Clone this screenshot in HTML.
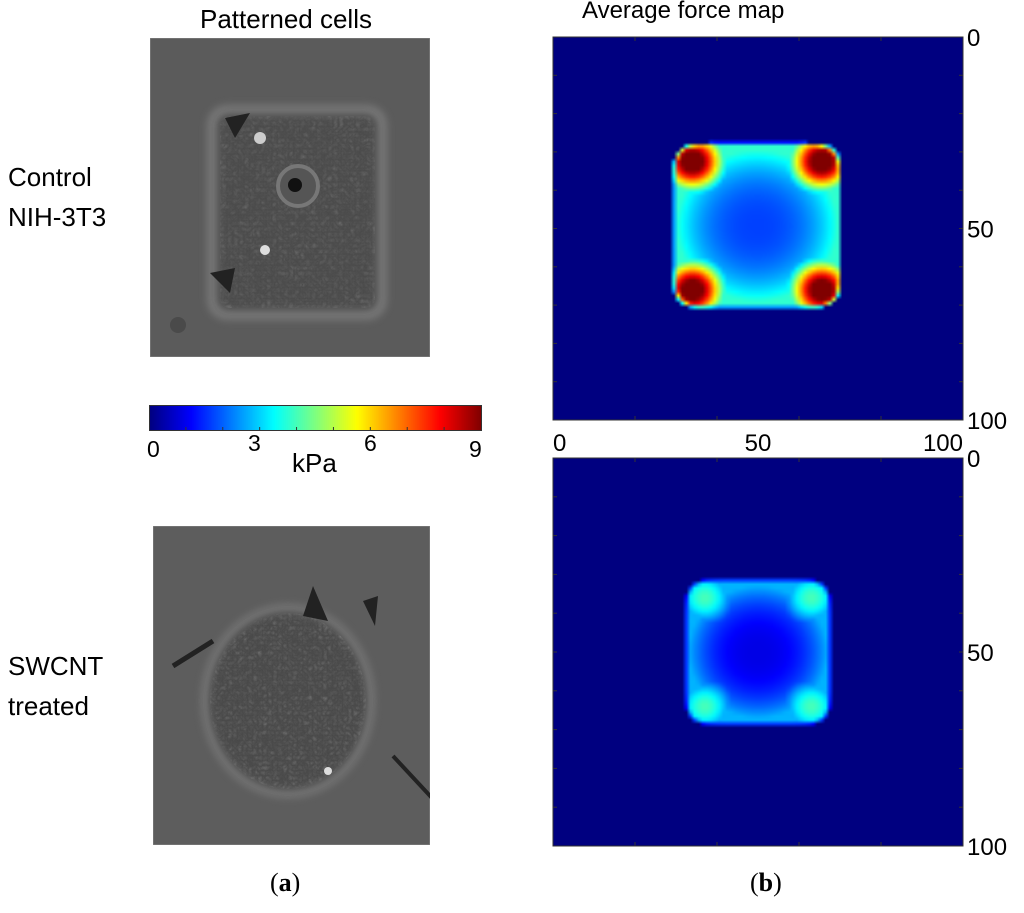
<!DOCTYPE html>
<html><head><meta charset="utf-8"><style>
body{margin:0;background:#fff;width:1024px;height:913px;position:relative;overflow:hidden;font-family:"Liberation Sans",Arial,sans-serif;}
.t{position:absolute;color:#000;white-space:nowrap;}
canvas{position:absolute;}
</style></head><body>
<div class="t" style="left:200px;top:4px;font-size:26px;">Patterned cells</div>
<div class="t" style="left:582px;top:-3px;font-size:24px;">Average force map</div>
<div class="t" style="left:8px;top:157px;font-size:26px;line-height:40px;">Control<br>NIH-3T3</div>
<div class="t" style="left:8px;top:646px;font-size:26px;line-height:40px;">SWCNT<br>treated</div>
<div class="t" style="left:270px;top:868px;font-size:26px;font-family:'Liberation Serif',serif;">(<b>a</b>)</div>
<div class="t" style="left:750px;top:868px;font-size:26px;font-family:'Liberation Serif',serif;">(<b>b</b>)</div>

<svg style="position:absolute;left:150px;top:38px" width="280" height="319">
<defs><filter id="n1"><feTurbulence baseFrequency="0.18" numOctaves="2" seed="3"/><feColorMatrix type="saturate" values="0"/><feComponentTransfer><feFuncA type="table" tableValues="0 0.3"/></feComponentTransfer><feComposite in2="SourceGraphic" operator="in"/></filter>
<filter id="b1"><feGaussianBlur stdDeviation="4"/></filter></defs>
<rect width="280" height="319" fill="#5b5b5b" stroke="#888"/>
<rect x="62" y="72" width="170" height="205" rx="15" fill="none" stroke="#8a8a8a" stroke-width="10" opacity="0.6" filter="url(#b1)"/>
<rect x="70" y="78" width="155" height="192" rx="10" fill="#4c4c4c" filter="url(#b1)"/>
<rect x="70" y="78" width="155" height="192" rx="10" fill="#fff" filter="url(#n1)"/>
<circle cx="148" cy="148" r="20" fill="#555" stroke="#777" stroke-width="4"/><circle cx="145" cy="147" r="7" fill="#111"/>
<circle cx="110" cy="100" r="6" fill="#ccc"/><circle cx="115" cy="212" r="5" fill="#ddd"/>
<path d="M60 235 L85 230 L80 255 Z" fill="#222"/><path d="M75 80 L100 75 L85 100 Z" fill="#222"/>
<circle cx="28" cy="287" r="8" fill="#4a4a4a"/>
</svg>
<svg style="position:absolute;left:153px;top:526px" width="277" height="319">
<defs><filter id="n2"><feTurbulence baseFrequency="0.2" numOctaves="2" seed="7"/><feColorMatrix type="saturate" values="0"/><feComponentTransfer><feFuncA type="table" tableValues="0 0.35"/></feComponentTransfer><feComposite in2="SourceGraphic" operator="in"/></filter>
<filter id="b2"><feGaussianBlur stdDeviation="4"/></filter></defs>
<rect width="277" height="319" fill="#5d5d5d" stroke="#888"/>
<ellipse cx="135" cy="175" rx="82" ry="92" fill="none" stroke="#8d8d8d" stroke-width="10" opacity="0.5" filter="url(#b2)"/>
<ellipse cx="135" cy="175" rx="78" ry="88" fill="#484848" filter="url(#b2)"/>
<ellipse cx="135" cy="175" rx="78" ry="88" fill="#fff" filter="url(#n2)"/>
<path d="M150 90 L160 60 L175 95 Z" fill="#222"/><path d="M60 115 L20 140" stroke="#222" stroke-width="5"/>
<path d="M240 230 L305 300" stroke="#222" stroke-width="4"/><path d="M210 75 L225 70 L222 100 Z" fill="#222"/>
<circle cx="175" cy="245" r="4" fill="#ddd"/>
</svg>

<canvas id="cb" width="333" height="26" style="left:149px;top:405px;"></canvas>
<svg style="position:absolute;left:149px;top:405px" width="334" height="27"><rect x="0.5" y="0.5" width="332" height="25" fill="none" stroke="#333"/><g id="cbticks" stroke="#333"></g></svg>
<div class="t" style="left:147px;top:436px;font-size:23px;">0</div>
<div class="t" style="left:248px;top:430px;font-size:23px;">3</div>
<div class="t" style="left:364px;top:430px;font-size:23px;">6</div>
<div class="t" style="left:469px;top:436px;font-size:23px;">9</div>
<div class="t" style="left:292px;top:448px;font-size:26px;">kPa</div>

<canvas id="m1" width="100" height="100" style="left:553px;top:37px;width:410px;height:383px;"></canvas>
<canvas id="m2" width="100" height="100" style="left:553px;top:458px;width:410px;height:388px;"></canvas>
<svg id="ax" style="position:absolute;left:0;top:0" width="1024" height="913"></svg>

<script>
// colorbar
const cbTicks = [0, 3, 6, 9];
// force map parameters (data units 0-100, kPa)
const topBox = [30, 69.5, 28.5, 70];
const topLevels = [1.7, 3.8, 10];   // center, edge, corner
const botBox = [33, 67, 32, 68];
const botLevels = [0.9, 2.7, 4.0];
const xTicks = [0, 50, 100];
const yTicks = [0, 50, 100];

function jet(v){ // v in 0..1
  const r=Math.min(1,Math.max(0,1.5-Math.abs(4*v-3)));
  const g=Math.min(1,Math.max(0,1.5-Math.abs(4*v-2)));
  const b=Math.min(1,Math.max(0,1.5-Math.abs(4*v-1)));
  return [r*255,g*255,b*255];
}
(function(){
  const c=document.getElementById('cb').getContext('2d');
  for(let x=0;x<333;x++){const [r,g,b]=jet(x/332);c.fillStyle=`rgb(${r|0},${g|0},${b|0})`;c.fillRect(x,0,1,26);}
  const g=document.getElementById('cbticks');
  for(let i=1;i<9;i++){const x=i*332/9;
    const l=document.createElementNS('http://www.w3.org/2000/svg','line');
    l.setAttribute('x1',x);l.setAttribute('x2',x);l.setAttribute('y1',22);l.setAttribute('y2',26);
    
    
    g.appendChild(l);}
})();
function drawMap(id,box,lv){
  const ctx=document.getElementById(id).getContext('2d');
  const img=ctx.createImageData(100,100);
  const [x0,x1,y0,y1]=box, cx=(x0+x1)/2, cy=(y0+y1)/2, hw=(x1-x0)/2, hh=(y1-y0)/2;
  const corners=[[x0+4,y0+4],[x1-4,y0+4],[x0+4,y1-4],[x1-4,y1-4]];
  for(let j=0;j<100;j++)for(let i=0;i<100;i++){
    const px=i+0.5,py=j+0.5;
    const dx=Math.abs(px-cx)/hw, dy=Math.abs(py-cy)/hh;
    const m=Math.pow(Math.pow(dx,8)+Math.pow(dy,8),1/8);
    let v=0;
    if(m<1.05){
      const r=Math.min(1,Math.hypot(px-cx,py-cy)/hw);
      v=lv[0]+(lv[1]-lv[0])*Math.pow(r,2.5);
      for(const [qx,qy] of corners){const d=Math.hypot(px-qx,py-qy);v=Math.max(v,lv[2]*Math.exp(-d*d/(2*5.5*5.5)));}
      if(m>1)v*=1-(m-1)/0.05*0.7;
    }
    const col=jet(Math.min(1,v/9));
    const k=(j*100+i)*4; img.data[k]=col[0];img.data[k+1]=col[1];img.data[k+2]=col[2];img.data[k+3]=255;
  }
  ctx.putImageData(img,0,0);
}
drawMap('m1',topBox,topLevels);
drawMap('m2',botBox,botLevels);
const ax=document.getElementById('ax');
function mk(tag,attrs,name){const e=document.createElementNS('http://www.w3.org/2000/svg',tag);for(const k in attrs)e.setAttribute(k,attrs[k]);
  
  
  ax.appendChild(e);return e;}
function axes(L,T,W,H,showX,pre){
  mk('rect',{x:L,y:T,width:W,height:H,fill:'none',stroke:'#333','stroke-width':1},pre+'-frame');
  for(let i=1;i<5;i++){const x=L+i*W/5;mk('line',{x1:x,x2:x,y1:T,y2:T+4,stroke:'#333'},pre+'-x-tick');mk('line',{x1:x,x2:x,y1:T+H,y2:T+H-4,stroke:'#333'},pre+'-x-tick');}
  for(let i=1;i<10;i++){const y=T+i*H/10;mk('line',{x1:L,x2:L+4,y1:y,y2:y,stroke:'#333'},pre+'-y-tick');mk('line',{x1:L+W,x2:L+W-4,y1:y,y2:y,stroke:'#333'},pre+'-y-tick');}
  yTicks.forEach(v=>{const t=mk('text',{x:L+W+4,y:T+v/100*H+9,'font-size':24,'font-family':'Liberation Sans, sans-serif'},pre+'-y-label');t.textContent=v;});
  if(showX)xTicks.forEach(v=>{const t=mk('text',{x:L+v/100*W,y:T+H+31,'font-size':24,'text-anchor':v===0?'start':(v===100?'end':'middle'),'font-family':'Liberation Sans, sans-serif'},pre+'-x-label');t.textContent=v;});
}
axes(553,37,410,383,true,'control-map');
axes(553,458,410,388,false,'swcnt-map');
</script>
</body></html>
